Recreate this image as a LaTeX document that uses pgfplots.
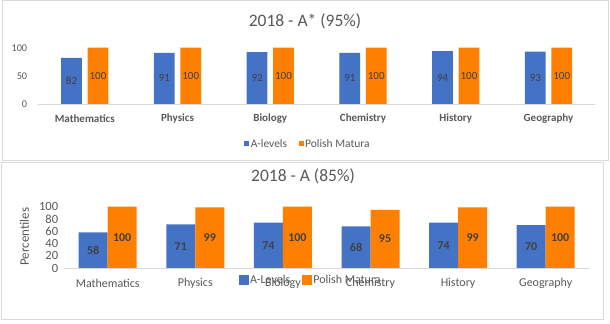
\documentclass[border=0pt]{standalone}
\usepackage{pgfplots}
\pgfplotsset{compat=1.18}
\usepackage{fontspec}
\setmainfont{Carlito}
\definecolor{xblue}{HTML}{4472C4}
\definecolor{xorange}{HTML}{FF7F00}
\definecolor{txtgray}{HTML}{595959}
\definecolor{lblgray}{HTML}{404040}
\definecolor{framegray}{HTML}{D9D9D9}
\begin{document}
\begin{tikzpicture}
\path[use as bounding box] (0,0) rectangle (610bp,324bp);
\fill[white] (0,0) rectangle (610bp,324bp);
\draw[framegray, line width=1bp] (2.7bp,323bp) rectangle (608bp,163bp);
\draw[framegray, line width=1bp] (1.7bp,161bp) rectangle (603bp,4bp);
\node[txtgray, font=\fontsize{17.5bp}{20bp}\selectfont] at (305bp,302.3bp) {2018 - A* (95\%)};
\node[txtgray, font=\fontsize{17.5bp}{20bp}\selectfont] at (303bp,147.3bp) {2018 - A (85\%)};
\node[txtgray, rotate=90, font=\fontsize{13bp}{15bp}\selectfont] at (24.3bp,87.3bp) {Percentiles};

% ---------- top chart ----------
\begin{axis}[
  at={(38.4bp,220bp)}, anchor=south west,
  scale only axis, width=556.5bp, height=56.3bp,
  xmin=-0.5, xmax=5.5, ymin=0, ymax=100,
  ybar, bar width=20.7bp,
  axis x line*=bottom, axis y line*=left,
  y axis line style={draw=none},
  x axis line style={framegray, line width=0.8bp},
  major tick length=0pt,
  xtick={0,1,2,3,4,5},
  xticklabels={Mathematics,Physics,Biology,Chemistry,History,Geography},
  xticklabel style={anchor=center, yshift=-15bp, text=txtgray, font=\bfseries\fontsize{11bp}{13bp}\selectfont},
  ytick={0,50,100},
  yticklabel style={anchor=east, inner sep=0pt, xshift=-11bp, text=txtgray, font=\fontsize{10.3bp}{12bp}\selectfont},
  /pgf/number format/assume math mode=true,
  clip=false,
  nodes near coords,
  visualization depends on={y \as \rawy},
  every node near coord/.append style={anchor=center, text=lblgray, font=\fontsize{11bp}{13bp}\selectfont,
     shift={(axis direction cs:0,-\rawy/2)}},
  legend columns=2,
  legend image code/.code={\fill[#1] (0bp,-2.5bp) rectangle (5bp,2.5bp);},
  legend style={draw=none, fill=none, at={(0.484,-0.71)}, anchor=center,
     text=txtgray, font=\fontsize{11.5bp}{13bp}\selectfont,
     /tikz/every even column/.append style={column sep=10bp},
     nodes={inner sep=1.5bp}},
]
\addplot[fill=xblue, draw=none, bar shift=-13.2bp] coordinates {(0,82) (1,91) (2,92) (3,91) (4,94) (5,93)};
\addplot[fill=xorange, draw=none, bar shift=13.2bp] coordinates {(0,100) (1,100) (2,100) (3,100) (4,100) (5,100)};
\legend{A-levels, Polish Matura}
\end{axis}

% ---------- bottom chart ----------
\begin{axis}[
  at={(63.9bp,56bp)}, anchor=south west,
  scale only axis, width=525.6bp, height=61.3bp,
  xmin=-0.5, xmax=5.5, ymin=0, ymax=100,
  ybar, bar width=29bp,
  axis x line*=bottom, axis y line*=left,
  y axis line style={draw=none},
  x axis line style={framegray, line width=0.8bp},
  major tick length=0pt,
  xtick={0,1,2,3,4,5},
  xticklabels={Mathematics,Physics,Biology,Chemistry,History,Geography},
  xticklabel style={anchor=center, yshift=-15.3bp, text=txtgray, font=\fontsize{12bp}{14bp}\selectfont},
  ytick={0,20,40,60,80,100},
  yticklabel style={anchor=east, inner sep=0pt, xshift=-5.6bp, text=txtgray, font=\fontsize{12.5bp}{14bp}\selectfont},
  /pgf/number format/assume math mode=true,
  clip=false,
  nodes near coords,
  visualization depends on={y \as \rawy},
  every node near coord/.append style={anchor=center, text=lblgray, font=\bfseries\fontsize{12bp}{14bp}\selectfont,
     shift={(axis direction cs:0,-\rawy/2)}},
  legend columns=2,
  legend image code/.code={\fill[#1] (0bp,-5bp) rectangle (10bp,5bp);},
  legend style={draw=none, fill=none, at={(0.469,-0.19)}, anchor=center,
     text=txtgray, font=\fontsize{12bp}{14bp}\selectfont,
     /tikz/every even column/.append style={column sep=10bp},
     nodes={inner sep=1.5bp}},
]
\addplot[fill=xblue, draw=none, bar shift=-14.5bp] coordinates {(0,58) (1,71) (2,74) (3,68) (4,74) (5,70)};
\addplot[fill=xorange, draw=none, bar shift=14.5bp] coordinates {(0,100) (1,99) (2,100) (3,95) (4,99) (5,100)};
\legend{A-Levels, Polish Matura}
\end{axis}
\end{tikzpicture}
\end{document}
